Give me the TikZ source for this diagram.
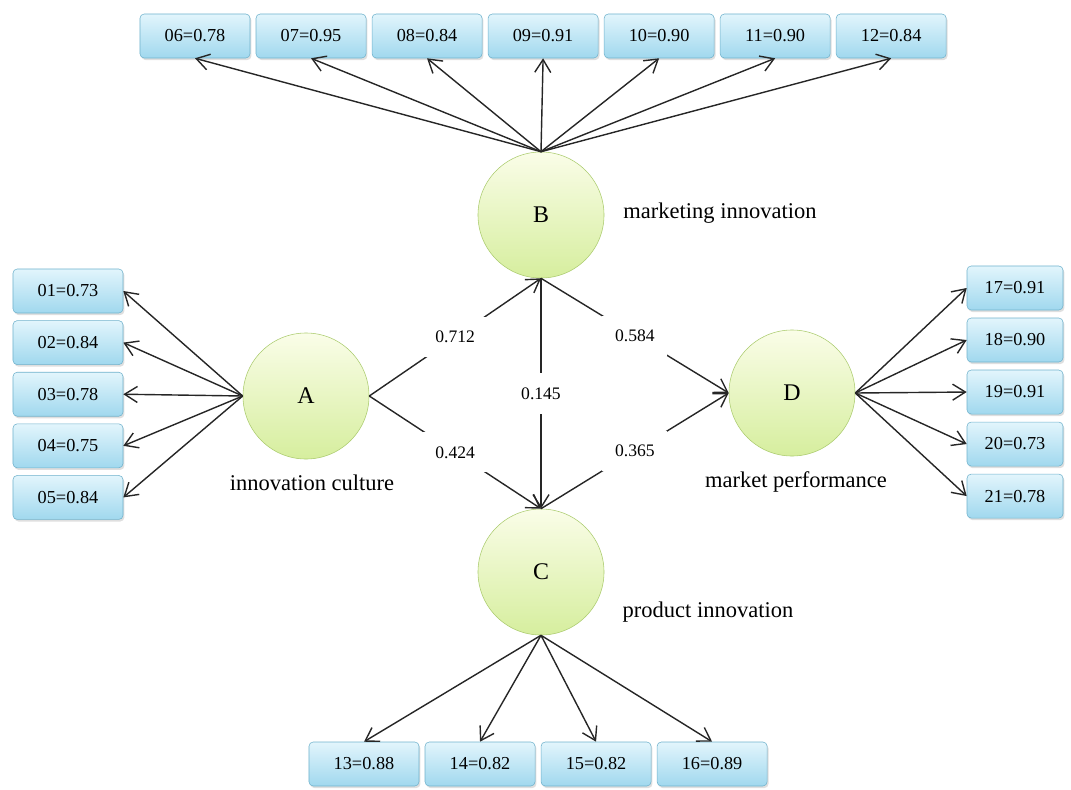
\documentclass[tikz,border=0pt]{standalone}
\usepackage{fontspec}
\setmainfont{Liberation Serif}
\usetikzlibrary{arrows.meta, shadows}
\definecolor{boxtop}{RGB}{226,245,252}
\definecolor{boxbot}{RGB}{160,216,238}
\definecolor{boxline}{RGB}{112,178,204}
\definecolor{ovaltop}{RGB}{250,253,232}
\definecolor{ovalbot}{RGB}{214,238,158}
\definecolor{ovalline}{RGB}{172,204,112}
\tikzstyle{indicator} = [rectangle, rounded corners=3pt, minimum width=2.75cm, minimum height=1.1cm, text centered, draw=boxline, top color=boxtop, bottom color=boxbot, drop shadow={shadow xshift=1pt, shadow yshift=-1.5pt, opacity=0.25}, font=\fontsize{13}{15}\selectfont]
\tikzstyle{latent} = [circle, minimum size=3.15cm, draw=ovalline, top color=ovaltop, bottom color=ovalbot, font=\fontsize{17}{20}\selectfont]
\tikzstyle{caption} = [font=\fontsize{16}{19}\selectfont]
\tikzstyle{weight} = [fill=white, inner xsep=9pt, inner ysep=10pt, font=\fontsize{12.5}{15}\selectfont]
\tikzstyle{arrow} = [line width=1pt, draw=black!85, -{Straight Barb[length=3.2mm,width=4mm]}]

\begin{document}
\begin{tikzpicture}[x=0.025cm, y=-0.025cm, node distance=2.9cm]
				\useasboundingbox (0,0) rectangle (1071,789);
				\node (B) [latent] at (541,215) {B};
				\node (A) [latent] at (306,396) {A};
				\node (D) [latent] at (792,393) {D};
				\node (C) [latent] at (541,572) {C};
				
				\node (capB) [caption] at (720,213) {marketing innovation};
				\node (capA) [caption] at (312,483) {innovation culture};
				\node (capD) [caption] at (796,482) {market performance};
				\node (capC) [caption] at (708,612) {product innovation};
				
				\node (i06) [indicator] at (195,36) {06=0.78};
				\node (i07) [indicator, right of=i06] {07=0.95};
				\node (i08) [indicator, right of=i07] {08=0.84};
				\node (i09) [indicator, right of=i08] {09=0.91};
				\node (i10) [indicator, right of=i09] {10=0.90};
				\node (i11) [indicator, right of=i10] {11=0.90};
				\node (i12) [indicator, right of=i11] {12=0.84};
				
				\node (i01) [indicator] at (68,291) {01=0.73};
				\node (i02) [indicator, below of=i01, node distance=1.29cm] {02=0.84};
				\node (i03) [indicator, below of=i02, node distance=1.29cm] {03=0.78};
				\node (i04) [indicator, below of=i03, node distance=1.29cm] {04=0.75};
				\node (i05) [indicator, below of=i04, node distance=1.29cm] {05=0.84};
				
				\node (i13) [indicator] at (364,764) {13=0.88};
				\node (i14) [indicator, right of=i13] {14=0.82};
				\node (i15) [indicator, right of=i14] {15=0.82};
				\node (i16) [indicator, right of=i15] {16=0.89};
				
				\node (i17) [indicator, minimum width=2.4cm] at (1015,288) {17=0.91};
				\node (i18) [indicator, minimum width=2.4cm, below of=i17, node distance=1.3cm] {18=0.90};
				\node (i19) [indicator, minimum width=2.4cm, below of=i18, node distance=1.3cm] {19=0.91};
				\node (i20) [indicator, minimum width=2.4cm, below of=i19, node distance=1.3cm] {20=0.73};
				\node (i21) [indicator, minimum width=2.4cm, below of=i20, node distance=1.3cm] {21=0.78};
				
				\draw [arrow] (A.east) -- node [weight] {0.712} (B.south);
				\draw [arrow] (A.east) -- node [weight] {0.424} (C.north);
				\draw [arrow] (B.south) -- node [weight] {0.145} (C.north);
				\draw [arrow] (B.south) -- node [weight] {0.584} (D.west);
				\draw [arrow] (C.north) -- node [weight] {0.365} (D.west);
				
				\foreach \i in {06,07,08,09,10,11,12}
					\draw [arrow] (B.north) -- (i\i.south);
				\foreach \i in {01,02,03,04,05}
					\draw [arrow] (A.west) -- (i\i.east);
				\foreach \i in {13,14,15,16}
					\draw [arrow] (C.south) -- (i\i.north);
				\foreach \i in {17,18,19,20,21}
					\draw [arrow] (D.east) -- (i\i.west);
				
\end{tikzpicture}
\end{document}
